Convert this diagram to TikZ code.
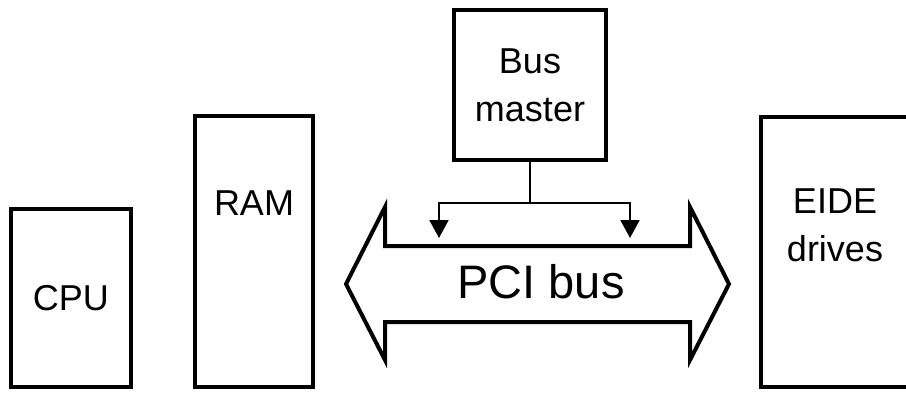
\documentclass[tikz,border=0pt]{standalone}
\usepackage{fontspec}
\setmainfont{Liberation Sans}
\usepackage{tikz}
\usetikzlibrary{arrows.meta, positioning, calc}

\begin{document}
\begin{tikzpicture}[
      x=1pt, y=-1pt,
      box/.style  = {draw, line width=4pt, rectangle, inner sep=0pt,
                     align=center, font=\fontsize{36}{48}\selectfont},
      lbl/.style  = {inner sep=0pt, align=center,
                     font=\fontsize{36}{48}\selectfont},
      feed/.style = {-{Triangle[width=19pt, length=18pt]}, line width=2pt},
      busline/.style = {line width=4pt, line join=miter},
    ]
    \useasboundingbox (0,0) rectangle (906,392);
    \clip (0,0) rectangle (906,392);
    %% ── Bausteine ──────────────────────────────────────────────
    \node (cpu)  [box, minimum width=120pt, minimum height=178pt] at (71,298) {CPU};
    \node (ram)  [box, minimum width=118pt, minimum height=271pt] at (254,251.5) {};
    \node (bm)   [box, minimum width=152pt, minimum height=150pt] at (530,85) {Bus\\master};
    \node (eide) [box, minimum width=148pt, minimum height=270pt] at (835,252) {};
    \node (ramtxt)  [lbl, anchor=base]  at (254,215) {RAM};
    \node (eidetxt) [lbl, anchor=north] at (835,189) {EIDE\\drives};
    %% ── PCI-Bus (Doppelpfeil) ──────────────────────────────────
    \draw[busline]
      (385,246) -- (385,207) -- (346,284) -- (385,360) -- (385,322)
      -- (690,322) -- (690,360) -- (729,284) -- (690,207) -- (690,246)
      -- cycle;
    \node (pci) [lbl, anchor=base, font=\fontsize{47}{50}\selectfont]
      at (541,298) {PCI bus};
    %% ── Bus-Master auf den Bus ─────────────────────────────────
    \coordinate (tapw) at (439,238);
    \coordinate (tape) at (630,238);
    \draw[feed] (bm.south) -- ++(0,41) coordinate (fork) -| (tapw);
    \draw[feed] (fork) -| (tape);
  \end{tikzpicture}
\end{document}
